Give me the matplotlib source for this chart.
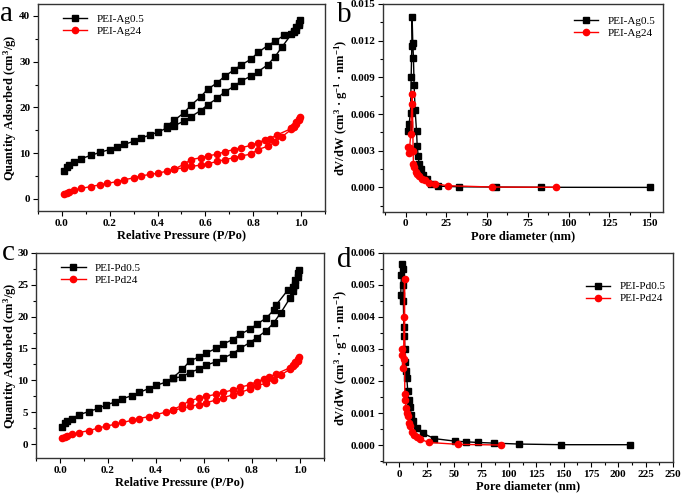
import matplotlib
matplotlib.use("Agg")
import matplotlib.pyplot as plt
from matplotlib.ticker import MultipleLocator, AutoMinorLocator

plt.rcParams['font.family'] = ['Liberation Serif', 'DejaVu Serif']
plt.rcParams['mathtext.fontset'] = 'custom'
plt.rcParams['mathtext.rm'] = 'Liberation Serif:bold'
plt.rcParams['mathtext.default'] = 'rm'

# ---- panel a: Ag isotherms (adsorption then desorption branch) ----
ag05_p = [0.01, 0.02, 0.03, 0.05, 0.08, 0.12, 0.16, 0.20, 0.23, 0.26, 0.30, 0.33, 0.37, 0.40, 0.44, 0.47,
          0.51, 0.54, 0.58, 0.61, 0.65, 0.68, 0.72, 0.75, 0.79, 0.82, 0.86, 0.89, 0.92, 0.96, 0.97, 0.98, 0.99, 0.995,
          0.99, 0.98, 0.97, 0.93, 0.89, 0.86, 0.82, 0.79, 0.75, 0.72, 0.68, 0.65, 0.61, 0.58, 0.54, 0.51, 0.47, 0.44]
ag05_q = [6.1, 7.0, 7.5, 8.0, 8.8, 9.5, 10.2, 10.8, 11.4, 11.9, 12.6, 13.3, 14.0, 14.6, 15.5, 16.0,
          17.0, 18.0, 19.3, 20.6, 22.0, 23.4, 24.6, 25.8, 26.8, 27.8, 29.3, 31.0, 33.2, 36.0, 36.5, 37.0, 38.0, 39.0,
          38.5, 37.5, 36.8, 35.8, 34.4, 33.5, 32.0, 30.5, 29.3, 28.2, 26.8, 25.4, 24.0, 22.3, 20.5, 18.8, 17.2, 16.0]
ag24_p = [0.01, 0.02, 0.03, 0.05, 0.08, 0.12, 0.16, 0.19, 0.23, 0.26, 0.30, 0.33, 0.37, 0.40, 0.44, 0.47,
          0.51, 0.54, 0.58, 0.61, 0.65, 0.68, 0.72, 0.75, 0.79, 0.82, 0.86, 0.89, 0.92, 0.96, 0.97, 0.98, 0.99, 0.995,
          0.99, 0.98, 0.97, 0.96, 0.90, 0.87, 0.85, 0.82, 0.79, 0.75, 0.72, 0.68, 0.65, 0.61, 0.58, 0.54, 0.51, 0.47]
ag24_q = [1.1, 1.4, 1.6, 1.9, 2.3, 2.7, 3.1, 3.4, 3.8, 4.2, 4.6, 5.0, 5.4, 5.6, 6.1, 6.5,
          6.8, 7.1, 7.4, 7.7, 8.2, 8.6, 9.0, 9.4, 9.8, 10.8, 11.5, 12.4, 13.6, 15.2, 15.7, 16.3, 17.2, 18.0,
          17.5, 16.8, 16.0, 15.4, 14.0, 13.2, 12.9, 12.3, 11.7, 11.2, 10.8, 10.3, 9.8, 9.4, 9.0, 8.6, 7.6, 6.5]

# ---- panel b: Ag pore size distribution ----
ag05_d = [1.4, 2.0, 2.9, 3.3, 3.7, 3.9, 4.3, 4.7, 5.1, 5.75, 6.6, 7.0, 7.6, 8.2, 9.2, 10.7, 12.9, 15.4, 20.0, 33.0, 55.5, 83.0, 150.0]
ag05_v = [0.0046, 0.0052, 0.0061, 0.0090, 0.0116, 0.0139, 0.0118, 0.0106, 0.0084, 0.0063, 0.0046, 0.0034, 0.0026,
          0.0019, 0.0015, 0.0010, 0.00066, 0.0003, 0.0001, 0.00005, 0.00003, 0.00001, 0.0]
ag24_d = [1.4, 1.85, 2.3, 3.1, 3.7, 4.1, 4.5, 4.7, 5.3, 6.2, 7.0, 8.2, 9.7, 11.7, 14.4, 17.9, 25.7, 53.0, 92.0]
ag24_v = [0.0033, 0.0028, 0.0032, 0.0044, 0.0076, 0.0068, 0.0030, 0.0019, 0.0017, 0.0013, 0.0011, 0.0009, 0.0007,
          0.0006, 0.0004, 0.0003, 0.00014, 0.00003, 0.00001]

# ---- panel c: Pd isotherms ----
pd05_p = [0.01, 0.02, 0.03, 0.05, 0.08, 0.12, 0.16, 0.19, 0.23, 0.26, 0.30, 0.33, 0.37, 0.40, 0.44, 0.47,
          0.51, 0.54, 0.58, 0.61, 0.65, 0.68, 0.72, 0.75, 0.79, 0.82, 0.86, 0.89, 0.92, 0.96, 0.97, 0.98, 0.99, 0.995,
          0.99, 0.98, 0.97, 0.95, 0.90, 0.89, 0.86, 0.82, 0.79, 0.75, 0.72, 0.68, 0.65, 0.61, 0.58, 0.54, 0.51, 0.47]
pd05_q = [2.6, 3.3, 3.6, 4.0, 4.6, 5.1, 5.6, 6.1, 6.6, 7.1, 7.6, 8.1, 8.7, 9.2, 9.7, 10.3,
          10.6, 11.2, 11.8, 12.4, 12.9, 13.5, 14.2, 15.0, 15.9, 16.7, 17.8, 19.0, 20.6, 23.0, 24.0, 25.0, 26.2, 27.4,
          26.8, 25.8, 24.6, 24.2, 21.8, 21.0, 19.8, 18.8, 18.0, 17.2, 16.4, 15.7, 15.0, 14.3, 13.7, 13.0, 11.7, 10.4]
pd24_p = [0.01, 0.02, 0.03, 0.05, 0.08, 0.12, 0.16, 0.19, 0.23, 0.26, 0.30, 0.33, 0.37, 0.40, 0.44, 0.47,
          0.51, 0.54, 0.58, 0.61, 0.65, 0.68, 0.72, 0.75, 0.79, 0.82, 0.86, 0.89, 0.92, 0.96, 0.97, 0.98, 0.99, 0.995,
          0.99, 0.98, 0.97, 0.96, 0.90, 0.87, 0.85, 0.82, 0.79, 0.75, 0.72, 0.68, 0.65, 0.61, 0.58, 0.54, 0.51, 0.47]
pd24_q = [0.9, 1.1, 1.3, 1.5, 1.8, 2.1, 2.5, 2.8, 3.1, 3.4, 3.7, 4.0, 4.3, 4.6, 5.0, 5.3,
          5.6, 5.9, 6.2, 6.5, 6.9, 7.3, 7.7, 8.1, 8.6, 9.1, 9.6, 10.1, 10.8, 11.8, 12.2, 12.6, 13.1, 13.6,
          13.3, 12.9, 12.4, 12.0, 11.0, 10.5, 10.2, 9.8, 9.3, 8.9, 8.5, 8.1, 7.8, 7.5, 7.2, 6.8, 6.1, 5.4]

# ---- panel d: Pd pore size distribution ----
pd05_d = [1.2, 1.8, 2.4, 3.0, 3.3, 3.6, 4.0, 4.6, 4.9, 5.5, 6.1, 6.7, 7.6, 8.5, 9.4, 11.0, 12.8, 15.8, 21.3, 31.9,
          51.0, 61.0, 71.5, 86.0, 109.5, 148.0, 211.0]
pd05_v = [0.0047, 0.0053, 0.00565, 0.0055, 0.0050, 0.0045, 0.0037, 0.0034, 0.0030, 0.0026, 0.0023, 0.0021, 0.0017,
          0.0014, 0.0012, 0.00094, 0.00075, 0.00054, 0.00037, 0.0002, 0.00012, 0.0001, 0.00008, 0.00006, 0.00003,
          0.00001, 0.00001]
pd24_d = [2.1, 2.7, 3.3, 3.8, 4.3, 4.7, 4.9, 5.5, 6.1, 7.0, 7.6, 8.8, 10.0, 11.6, 13.4, 16.4, 18.9, 27.0, 53.8, 92.5]
pd24_v = [0.0030, 0.0028, 0.0024, 0.0027, 0.0040, 0.0052, 0.0016, 0.0014, 0.00115, 0.0010, 0.0009, 0.0007, 0.0006,
          0.0004, 0.0003, 0.00024, 0.00018, 0.00008, 0.00002, 0.0]

fig = plt.figure(figsize=(6.82, 4.95), dpi=100)
ax_a = fig.add_axes([0.0557, 0.574, 0.4208, 0.418])
ax_b = fig.add_axes([0.5616, 0.572, 0.4104, 0.420])
ax_c = fig.add_axes([0.0528, 0.0747, 0.4222, 0.4143])
ax_d = fig.add_axes([0.5616, 0.0667, 0.4252, 0.4223])

tick_font = dict(family='Liberation Serif', weight='bold', size=8)
label_font = dict(family='Liberation Serif', weight='bold', size=9)
leg_prop = dict(family='Liberation Serif', size=8)


def style(ax, xmaj, ymaj):
    ax.xaxis.set_major_locator(MultipleLocator(xmaj))
    ax.yaxis.set_major_locator(MultipleLocator(ymaj))
    ax.xaxis.set_minor_locator(AutoMinorLocator(2))
    ax.yaxis.set_minor_locator(AutoMinorLocator(2))
    ax.tick_params(which='major', direction='out', length=3.5, width=0.8, top=False, right=False, pad=2)
    ax.tick_params(which='minor', direction='out', length=2, width=0.8, top=False, right=False)
    for lab in ax.get_xticklabels() + ax.get_yticklabels():
        lab.set_fontproperties(tick_font)
    for s in ax.spines.values():
        s.set_linewidth(1.0)
        s.set_color('#333333')


def plot_pair(ax, x1, y1, n1, x2, y2, n2):
    ax.plot(x1, y1, '-s', color='black', ms=4, lw=1.0, label=n1)
    ax.plot(x2, y2, '-o', color='red', ms=4.5, lw=1.0, label=n2)


iso_ylabel = 'Quantity Adsorbed (cm$^{3}$/g)'
psd_ylabel = 'dV/dW (cm$^{3}$ · g$^{-1}$ · nm$^{-1}$)'

# a
plot_pair(ax_a, ag05_p, ag05_q, 'PEI-Ag0.5', ag24_p, ag24_q, 'PEI-Ag24')
ax_a.set_xlim(-0.1, 1.1)
ax_a.set_ylim(-2.6, 42.6)
style(ax_a, 0.2, 10)
ax_a.set_xticklabels([f'{v:.1f}' for v in ax_a.get_xticks()], fontdict=tick_font)
ax_a.set_xlabel('Relative Pressure (P/Po)', fontdict=label_font, labelpad=1)
ax_a.set_ylabel(iso_ylabel, fontdict=label_font)
ax_a.yaxis.set_label_coords(-0.066, 0.5)
ax_a.legend(loc='upper left', bbox_to_anchor=(0.06, 0.99), frameon=False, prop=leg_prop,
            handlelength=2.2, borderaxespad=0.3, labelspacing=0.2)

# b
plot_pair(ax_b, ag05_d, ag05_v, 'PEI-Ag0.5', ag24_d, ag24_v, 'PEI-Ag24')
ax_b.set_xlim(-14, 158)
ax_b.set_ylim(-0.002, 0.015)
style(ax_b, 25, 0.003)
ax_b.set_yticklabels([f'{v:.3f}' for v in ax_b.get_yticks()], fontdict=tick_font)
ax_b.set_xlabel('Pore diameter (nm)', fontdict=label_font, labelpad=1)
ax_b.set_ylabel(psd_ylabel, fontdict=label_font)
ax_b.yaxis.set_label_coords(-0.118, 0.5)
ax_b.legend(loc='upper right', bbox_to_anchor=(1.0, 0.98), frameon=False, prop=leg_prop,
            handlelength=2.2, borderaxespad=0.3, labelspacing=0.2)

# c
plot_pair(ax_c, pd05_p, pd05_q, 'PEI-Pd0.5', pd24_p, pd24_q, 'PEI-Pd24')
ax_c.set_xlim(-0.1, 1.1)
ax_c.set_ylim(-2.2, 30)
style(ax_c, 0.2, 5)
ax_c.set_xticklabels([f'{v:.1f}' for v in ax_c.get_xticks()], fontdict=tick_font)
ax_c.set_xlabel('Relative Pressure (P/Po)', fontdict=label_font, labelpad=1)
ax_c.set_ylabel(iso_ylabel, fontdict=label_font)
ax_c.yaxis.set_label_coords(-0.06, 0.5)
ax_c.legend(loc='upper left', bbox_to_anchor=(0.06, 0.99), frameon=False, prop=leg_prop,
            handlelength=2.2, borderaxespad=0.3, labelspacing=0.2)

# d
plot_pair(ax_d, pd05_d, pd05_v, 'PEI-Pd0.5', pd24_d, pd24_v, 'PEI-Pd24')
ax_d.set_xlim(-15, 250)
ax_d.set_ylim(-0.00053, 0.006)
style(ax_d, 25, 0.001)
ax_d.set_yticklabels([f'{v:.3f}' for v in ax_d.get_yticks()], fontdict=tick_font)
ax_d.set_xlabel('Pore diameter (nm)', fontdict=label_font, labelpad=1)
ax_d.set_ylabel(psd_ylabel, fontdict=label_font)
ax_d.yaxis.set_label_coords(-0.114, 0.5)
ax_d.legend(loc='upper right', bbox_to_anchor=(1.0, 0.9), frameon=False, prop=leg_prop,
            handlelength=2.2, borderaxespad=0.3, labelspacing=0.2)

# panel letters
fig.text(0.0, 0.958, 'a', fontsize=21, family='Liberation Serif')
fig.text(0.494, 0.956, 'b', fontsize=21, family='Liberation Serif')
fig.text(0.003, 0.475, 'c', fontsize=21, family='Liberation Serif')
fig.text(0.494, 0.46, 'd', fontsize=21, family='Liberation Serif')

fig.savefig('out.png', dpi=100)
